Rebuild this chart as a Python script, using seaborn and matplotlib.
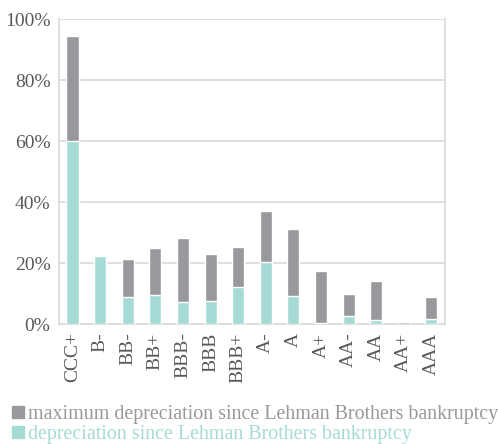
import matplotlib
matplotlib.use("Agg")
import matplotlib.pyplot as plt
from matplotlib.patches import Patch
from matplotlib.ticker import PercentFormatter
import pandas as pd
import seaborn as sns

ratings = ["CCC+", "B-", "BB-", "BB+", "BBB-", "BBB", "BBB+",
           "A-", "A", "A+", "AA-", "AA", "AA+", "AAA"]
max_depr = [94.6, 22.3, 21.3, 25.0, 28.2, 23.0, 25.3,
            37.1, 31.2, 17.4, 9.9, 14.1, 0.8, 8.9]
cur_depr = [60.0, 22.3, 8.9, 9.5, 7.3, 7.6, 12.2,
            20.4, 9.3, 0.3, 2.7, 1.4, 0.0, 1.7]

GRAY = "#98999d"
TEAL = "#a6dbd5"
TXT = "#595959"

df = pd.DataFrame({"rating": ratings, "max": max_depr, "cur": cur_depr})

sns.set_theme(style="white")
plt.rcParams["font.family"] = ["Liberation Serif", "DejaVu Serif"]

fig = plt.figure(figsize=(4.98, 4.44), dpi=100)
ax = fig.add_axes([0.118, 0.27, 0.776, 0.687])

# gray = max depreciation behind, teal = current depreciation in front
sns.barplot(data=df, x="rating", y="max", color=GRAY, width=0.44,
            saturation=1, ax=ax, zorder=4)
sns.barplot(data=df, x="rating", y="cur", color=TEAL, width=0.44,
            saturation=1, ax=ax, zorder=5)

ax.set_ylim(0, 100)
ax.set_yticks([0, 20, 40, 60, 80, 100])
ax.yaxis.set_major_formatter(PercentFormatter(decimals=0))
ax.grid(axis="y", color="#d9d9d9", linewidth=1.2, zorder=0)
ax.set_axisbelow(True)
ax.set_xlabel("")
ax.set_ylabel("")

for side in ["left", "right", "bottom"]:
    ax.spines[side].set_visible(True)
    ax.spines[side].set_color("#d9d9d9")
    ax.spines[side].set_linewidth(1.2)
    ax.spines[side].set_zorder(1)
ax.spines["top"].set_visible(False)

ax.tick_params(axis="y", labelsize=14, colors=TXT, length=0, pad=6)
ax.tick_params(axis="x", labelsize=14, colors=TXT, length=0, pad=6,
               labelrotation=90)

handles = [Patch(color=GRAY), Patch(color=TEAL)]
labels = ["maximum depreciation since Lehman Brothers bankruptcy",
          "depreciation since Lehman Brothers bankruptcy"]
fig.legend(handles, labels, loc="upper left", bbox_to_anchor=(0.0, 0.115),
           frameon=False, fontsize=14.4, labelcolor=[GRAY, TEAL],
           handlelength=0.6, handleheight=0.6, handletextpad=0.2,
           labelspacing=0.05, borderaxespad=0.2)

fig.savefig("out.png", dpi=100)
